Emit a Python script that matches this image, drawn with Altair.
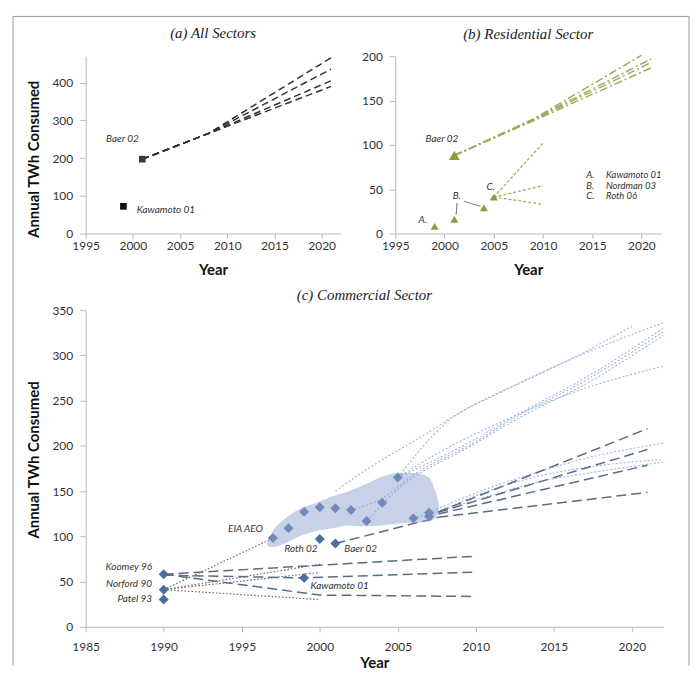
import altair as alt
import pandas as pd

FONT = "Lato"
SERIF = "Liberation Serif"
LABEL_COLOR = "#333333"

# ---------------- (a) All Sectors ----------------
a_sq_label = ["Kawamoto 01", "Baer 02"]
a_sq_year = [1999, 2001]
a_sq_value = [72, 197]
a_sq_color = ["#111111", "#3a3a3a"]

a_proj_year = [2001, 2008, 2021]
a_proj_1 = [197, 265, 466]
a_proj_2 = [197, 265, 436]
a_proj_3 = [197, 265, 405]
a_proj_4 = [197, 265, 390]

a_lab_c_text = ["Baer 02"]
a_lab_c_year = [1998.9]
a_lab_c_value = [251]
a_lab_l_text = ["Kawamoto 01"]
a_lab_l_year = [2000.4]
a_lab_l_value = [63]

# ---------------- (b) Residential Sector ----------------
b_tri_year = [1999, 2001, 2004, 2005]
b_tri_value = [8, 16, 29, 41]
b_baer_pt_year = [2001]
b_baer_pt_value = [88]

b_baer1_year = [2001, 2009, 2020]
b_baer1_value = [88, 129, 201]
b_baer2_year = [2001, 2009, 2021]
b_baer2_value = [88, 129, 197]
b_baer3_year = [2001, 2009, 2021]
b_baer3_value = [88, 128, 193]
b_baer4_year = [2001, 2009, 2021]
b_baer4_value = [88, 127, 187]

b_roth_year = [2005, 2010]
b_roth_1 = [41, 102]
b_roth_2 = [41, 54]
b_roth_3 = [41, 33]

b_ptr1_year = [2001.28, 2001.18]
b_ptr1_value = [34.4, 21.3]
b_ptr2_year = [2001.96, 2003.64]
b_ptr2_value = [36.3, 30.7]

b_lab_text = ["A.", "B.", "C.", "Baer 02"]
b_lab_year = [1997.8, 2001.25, 2004.7, 1999.74]
b_lab_value = [15, 42, 52, 107]

b_leg_key = ["A.", "B.", "C."]
b_leg_name = ["Kawamoto 01", "Nordman 03", "Roth 06"]
b_leg_value = [66, 54, 42]
b_leg_key_year = 2014.4
b_leg_name_year = 2016.4

# ---------------- (c) Commercial Sector ----------------
c_base_year = [1990, 1990, 1990]
c_base_value = [58, 41, 30]
c_eia_year = [1997, 1998, 1999, 2000, 2001, 2002, 2003, 2004, 2005, 2006, 2007, 2007]
c_eia_value = [98, 109, 127, 132, 131, 129, 117, 137, 165, 120, 122, 126]
c_other_year = [2000, 2001, 1999]
c_other_value = [97, 92, 54]

c_dash1_year = [1990, 2010]
c_dash1_value = [58, 78]
c_dash2_year = [1990, 1999, 2010]
c_dash2_value = [57, 54, 60.5]
c_dash3_year = [1990, 2000, 2010]
c_dash3_value = [58, 35, 33.5]

c_baer0_year = [2001, 2007.6]
c_baer0_value = [92, 121]
c_baer_year = [2007.6, 2021]
c_baer_1 = [127, 219]
c_baer_2 = [126.5, 196]
c_baer_3 = [124.6, 178.6]
c_baer_4 = [121, 148.5]

c_dot1_year = [1990, 1997]
c_dot1_value = [41, 98]
c_dot2_year = [1990, 2000]
c_dot2_value = [41, 69]
c_dot3_year = [1990, 2000]
c_dot3_value = [41, 60]
c_dot4_year = [1990, 2000]
c_dot4_value = [41, 30]

c_u1_year = [2001, 2003.2, 2006.4, 2009.5, 2013.8, 2017, 2020]
c_u1_value = [150, 176, 209, 242, 277, 304, 332]
c_u2_year = [2005, 2008, 2011.7, 2016, 2022]
c_u2_value = [165, 224, 260, 295, 336]
c_u3_year = [2005, 2009.5, 2013, 2017, 2022]
c_u3_value = [165, 203, 238, 275, 330]
c_u4_year = [2002, 2004, 2006, 2009.5, 2013, 2017, 2022]
c_u4_value = [129, 142, 168, 200, 236, 272, 326]
c_u5_year = [2003, 2005, 2009.5, 2013, 2017, 2022]
c_u5_value = [117, 152, 198, 233, 268, 322]
c_u6_year = [2005, 2008, 2011.7, 2015.9, 2022]
c_u6_value = [165, 196, 227, 257, 288]
c_d1_year = [2007, 2010, 2013.6, 2017, 2022]
c_d1_value = [126, 148, 169, 186, 203]
c_d2_year = [2007, 2010, 2013, 2017, 2022]
c_d2_value = [122, 145, 162, 176, 185]
c_d3_year = [2006, 2010, 2014, 2018, 2022]
c_d3_value = [120, 140, 160, 172, 182]

c_blob_year = [1996.6, 1996.7, 1997.0, 1997.6, 1998.7, 1999.8, 2000.8, 2001.9,
               2003.0, 2004.0, 2005.1, 2006.1, 2007.0, 2007.4, 2007.65]
c_blob_top = [92, 95, 106, 117, 130, 137, 144, 150, 158, 166, 170, 170, 165, 150, 135]
c_blob_bottom = [92, 89, 88, 91, 100, 106, 109, 112, 111, 112, 114, 115, 116, 120, 130]

c_lab_r_text = ["Koomey 96", "Norford 90", "Patel 93", "EIA AEO"]
c_lab_r_year = [1989.25, 1989.25, 1989.25, 1996.36]
c_lab_r_value = [66, 47.7, 30.1, 108]
c_lab_c_text = ["Roth 02"]
c_lab_c_year = [1998.8]
c_lab_c_value = [86.2]
c_lab_l_text = ["Baer 02", "Kawamoto 01"]
c_lab_l_year = [2001.57, 1999.4]
c_lab_l_value = [86.2, 44.5]


# ---------------- helpers ----------------
def lines_frame(*series):
    rows = []
    for name, ys, vs in series:
        for i, (yr, v) in enumerate(zip(ys, vs)):
            rows.append({"series": name, "year": yr, "value": v, "ord": i})
    return pd.DataFrame(rows)


def pts_frame(years, values, **extra):
    d = {"year": years, "value": values}
    d.update(extra)
    return pd.DataFrame(d)


def make_xy(xdom, xticks, ydom, yticks, ytitle, xlabpad, xtitlepad, ytitle_y=None):
    X = alt.X("year:Q", scale=alt.Scale(domain=xdom, nice=False, zero=False),
              axis=alt.Axis(values=xticks, format="d", title="Year", tickSize=5,
                            labelPadding=xlabpad, titlePadding=xtitlepad,
                            labelFlush=False, labelOverlap=False))
    yaxis = dict(values=yticks, tickSize=6, labelPadding=7, labelOverlap=False)
    if ytitle:
        yaxis.update(title=ytitle, minExtent=40, maxExtent=40, titlePadding=4,
                     titleY=ytitle_y)
    else:
        yaxis.update(title=None)
    ys = alt.Scale(domain=ydom, nice=False, zero=False)

    def Y(field="value"):
        return alt.Y(f"{field}:Q", scale=ys, axis=alt.Axis(**yaxis))
    return X, Y


def line_layer(df, X, Y, color, dash, width, interp="linear"):
    return alt.Chart(df).mark_line(color=color, strokeDash=dash, strokeWidth=width,
                                   interpolate=interp).encode(
        x=X, y=Y(), detail="series:N", order="ord:Q")


def text_layer(df, X, Y, align, size=10):
    return alt.Chart(df).mark_text(align=align, baseline="middle", font=FONT,
                                   fontStyle="italic", fontSize=size,
                                   color=LABEL_COLOR).encode(x=X, y=Y(), text="text:N")


def title(t, offset, dx=0):
    return alt.Title(t, font=SERIF, fontStyle="italic", fontWeight="normal", fontSize=15,
                     color="#222222", anchor="middle", frame="group", offset=offset, dx=dx)


one = pd.DataFrame({"k": [0]})
FRAME = "#9a9a9a"

# ---------------- panel (a) ----------------
Xa, Ya = make_xy([1995, 2022], [1995, 2000, 2005, 2010, 2015, 2020],
                 [0, 470], [0, 100, 200, 300, 400], "Annual TWh Consumed", 2, 11, 103)
a_lines = lines_frame(("a1", a_proj_year, a_proj_1), ("a2", a_proj_year, a_proj_2),
                      ("a3", a_proj_year, a_proj_3), ("a4", a_proj_year, a_proj_4))
a_chart = alt.layer(
    # figure frame (decoration)
    alt.Chart(one).mark_rule(color=FRAME, strokeWidth=1).encode(
        x=alt.value(-73), y=alt.value(-40), y2=alt.value(612)),
    alt.Chart(one).mark_rule(color=FRAME, strokeWidth=1).encode(
        x=alt.value(-73), x2=alt.value(606), y=alt.value(-40)),
    alt.Chart(one).mark_rule(color=FRAME, strokeWidth=1).encode(
        x=alt.value(606), y=alt.value(-40), y2=alt.value(612)),
    # panel title
    alt.Chart(one).mark_text(font=SERIF, fontStyle="italic", fontSize=15, color="#222222",
                             align="center", baseline="middle").encode(
        x=alt.value(128), y=alt.value(-23), text=alt.value("(a) All Sectors")),
    line_layer(a_lines, Xa, Ya, "#333333", [7, 4], 1.5),
    alt.Chart(pts_frame(a_sq_year, a_sq_value, c=a_sq_color)).mark_point(
        shape="square", filled=True, size=45, opacity=1).encode(
        x=Xa, y=Ya(), color=alt.Color("c:N", scale=None)),
    text_layer(pts_frame(a_lab_c_year, a_lab_c_value, text=a_lab_c_text), Xa, Ya, "center"),
    text_layer(pts_frame(a_lab_l_year, a_lab_l_value, text=a_lab_l_text), Xa, Ya, "left"),
).properties(width=256, height=178)

# ---------------- panel (b) ----------------
OLIVE = "#8b9c3c"
OLIVE_L = "#9cad5b"
Xb, Yb = make_xy([1995, 2022], [1995, 2000, 2005, 2010, 2015, 2020],
                 [0, 200], [0, 50, 100, 150, 200], None, 2, 11)
b_baer_lines = lines_frame(("b1", b_baer1_year, b_baer1_value), ("b2", b_baer2_year, b_baer2_value),
                           ("b3", b_baer3_year, b_baer3_value), ("b4", b_baer4_year, b_baer4_value))
b_roth_lines = lines_frame(("r1", b_roth_year, b_roth_1), ("r2", b_roth_year, b_roth_2),
                           ("r3", b_roth_year, b_roth_3))
b_ptr_lines = lines_frame(("p1", b_ptr1_year, b_ptr1_value), ("p2", b_ptr2_year, b_ptr2_value))
b_leg = pd.DataFrame({"year": [b_leg_key_year] * 3 + [b_leg_name_year] * 3,
                      "value": b_leg_value + b_leg_value,
                      "text": b_leg_key + b_leg_name})
b_chart = alt.layer(
    line_layer(b_baer_lines, Xb, Yb, OLIVE_L, [8, 3, 2, 3], 1.5),
    line_layer(b_roth_lines, Xb, Yb, OLIVE_L, [3, 2], 1.3),
    line_layer(b_ptr_lines, Xb, Yb, "#666666", [1, 0], 1),
    alt.Chart(pts_frame(b_tri_year, b_tri_value)).mark_point(
        shape="triangle-up", filled=True, size=64, opacity=1, color=OLIVE).encode(x=Xb, y=Yb()),
    alt.Chart(pts_frame(b_baer_pt_year, b_baer_pt_value)).mark_point(
        shape="triangle-up", filled=True, size=115, opacity=1, color=OLIVE).encode(x=Xb, y=Yb()),
    text_layer(pts_frame(b_lab_year, b_lab_value, text=b_lab_text), Xb, Yb, "center"),
    text_layer(b_leg, Xb, Yb, "left", 9.5),
).properties(width=267, height=178, title=title("(b) Residential Sector", 8))

# ---------------- panel (c) ----------------
BLUE = "#4e6da3"
Xc, Yc = make_xy([1985, 2022], [1985, 1990, 1995, 2000, 2005, 2010, 2015, 2020],
                 [0, 350], [0, 50, 100, 150, 200, 250, 300, 350], "Annual TWh Consumed",
                 10, 3, 150)
c_dark = lines_frame(("d1", c_dash1_year, c_dash1_value), ("d2", c_dash2_year, c_dash2_value),
                     ("d3", c_dash3_year, c_dash3_value), ("b0", c_baer0_year, c_baer0_value),
                     ("b1", c_baer_year, c_baer_1), ("b2", c_baer_year, c_baer_2),
                     ("b3", c_baer_year, c_baer_3), ("b4", c_baer_year, c_baer_4))
c_dots = lines_frame(("o1", c_dot1_year, c_dot1_value), ("o2", c_dot2_year, c_dot2_value),
                     ("o3", c_dot3_year, c_dot3_value), ("o4", c_dot4_year, c_dot4_value))
c_light = lines_frame(("u1", c_u1_year, c_u1_value), ("u2", c_u2_year, c_u2_value),
                      ("u3", c_u3_year, c_u3_value), ("u4", c_u4_year, c_u4_value),
                      ("u5", c_u5_year, c_u5_value), ("u6", c_u6_year, c_u6_value),
                      ("l1", c_d1_year, c_d1_value), ("l2", c_d2_year, c_d2_value),
                      ("l3", c_d3_year, c_d3_value))
c_blob = pd.DataFrame({"year": c_blob_year, "top": c_blob_top, "bottom": c_blob_bottom})
c_chart = alt.layer(
    line_layer(c_light, Xc, Yc, "#9db3dd", [2, 2], 1.1, "monotone"),
    line_layer(c_dots, Xc, Yc, "#666666", [1.5, 2], 1.2),
    line_layer(c_dark, Xc, Yc, "#5b6b85", [10, 5], 1.5),
    alt.Chart(pts_frame(c_base_year + c_eia_year + c_other_year,
                        c_base_value + c_eia_value + c_other_value)).mark_point(
        shape="diamond", filled=True, size=100, opacity=1, color=BLUE).encode(x=Xc, y=Yc()),
    alt.Chart(c_blob).mark_area(color="#8fa6d2", opacity=0.5, interpolate="monotone").encode(
        x=Xc, y=Yc("top"), y2="bottom:Q"),
    text_layer(pts_frame(c_lab_r_year, c_lab_r_value, text=c_lab_r_text), Xc, Yc, "right"),
    text_layer(pts_frame(c_lab_c_year, c_lab_c_value, text=c_lab_c_text), Xc, Yc, "center"),
    text_layer(pts_frame(c_lab_l_year, c_lab_l_value, text=c_lab_l_text), Xc, Yc, "left"),
).properties(width=580, height=318, title=title("(c) Commercial Sector", 1, -10))

top_row = alt.hconcat(a_chart, b_chart, spacing=55, bounds="flush")
chart = alt.vconcat(top_row, c_chart, spacing=255, bounds="flush").properties(
    padding={"left": 4, "top": 6, "right": 0, "bottom": 0}
).configure_view(stroke=None).configure_axis(
    domainColor="#b8b8b8", tickColor="#b8b8b8", grid=False,
    labelFont=FONT, labelFontSize=12, labelColor="#333333",
    titleFont=FONT, titleFontSize=15, titleFontWeight="bold", titleColor="#111111",
)

chart.save("out.html", embed_options={"renderer": "svg", "actions": False})
